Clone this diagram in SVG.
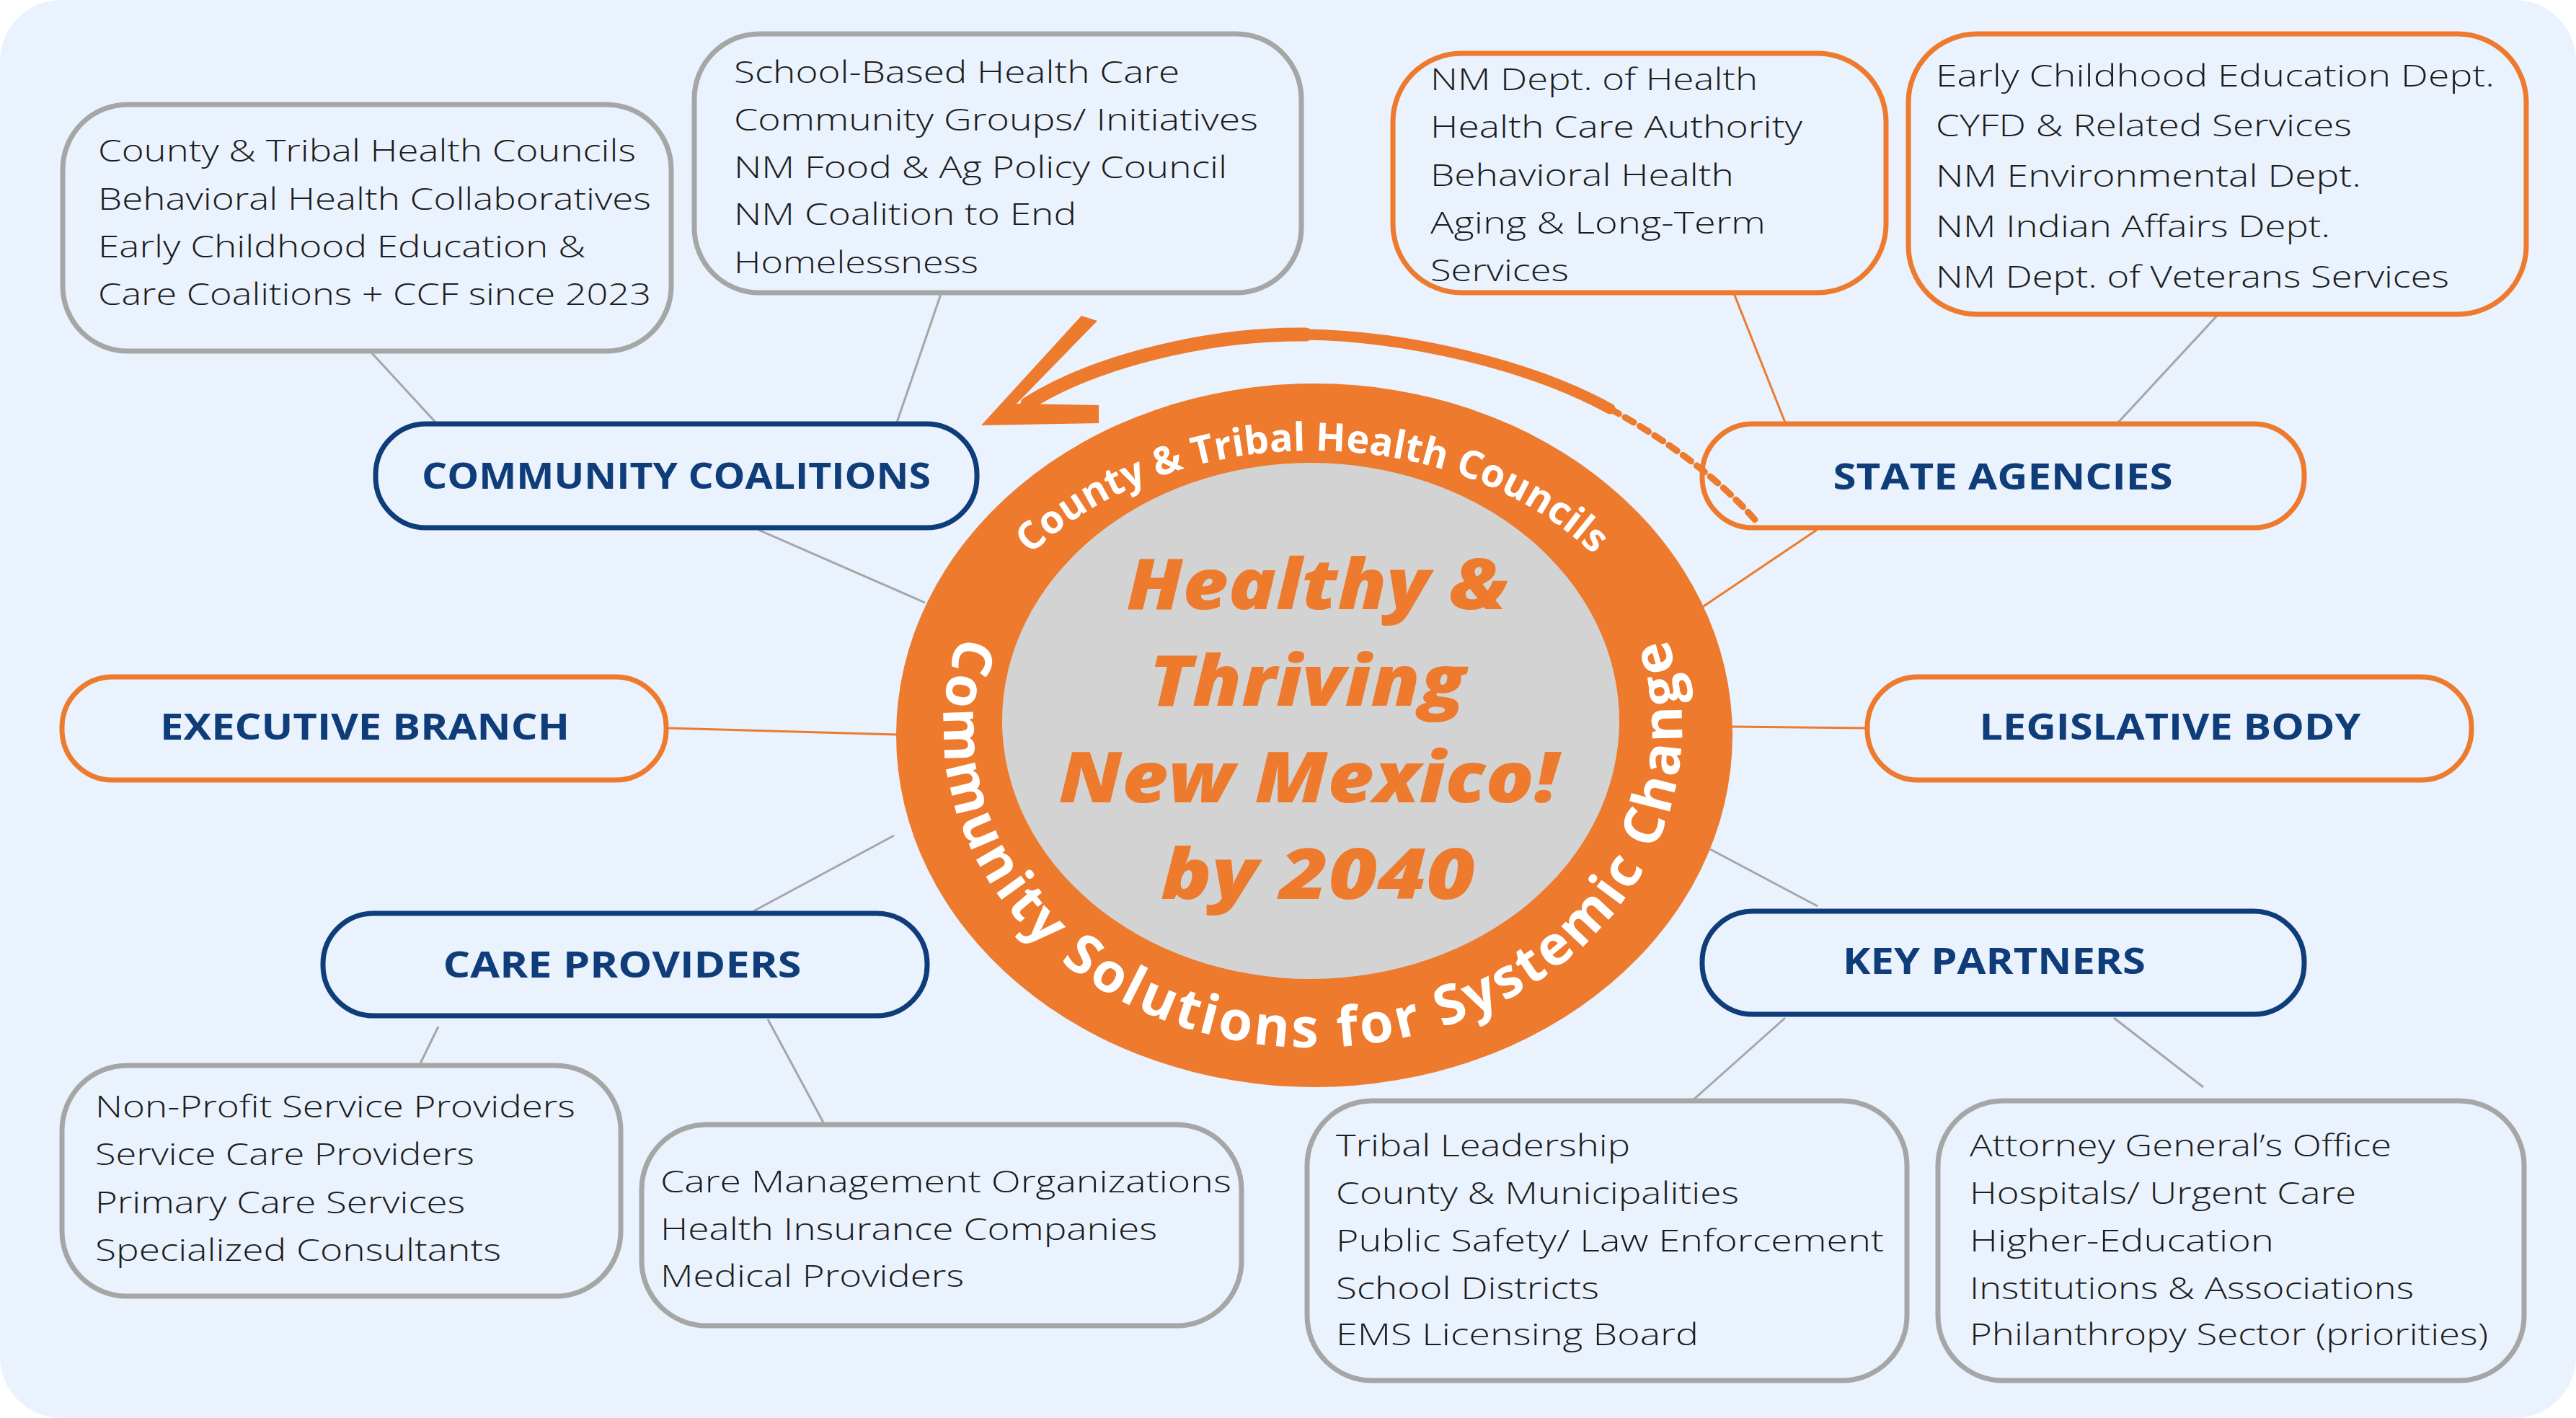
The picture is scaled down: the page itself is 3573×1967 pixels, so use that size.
<svg xmlns="http://www.w3.org/2000/svg" width="3573" height="1967" viewBox="0 0 3573 1967">
<style>
.t{font-family:"Open Sans","Liberation Sans",sans-serif;font-weight:300;font-size:43px;fill:#1c1c1c}
.h{font-family:"Open Sans","Liberation Sans",sans-serif;font-weight:700;font-size:51px;fill:#0f3d79;text-anchor:middle}
.c{font-family:"Open Sans","Liberation Sans",sans-serif;font-weight:800;font-style:italic;font-size:97px;fill:#ed7a2d;text-anchor:middle}
.arc{font-family:"Open Sans","Liberation Sans",sans-serif;font-weight:700;fill:#ffffff}
.box{fill:none;stroke-width:7}
.gray{stroke:#a6a6a6}
.org{stroke:#ed7a2d}
.navy{stroke:#0f3d79}
.lg{stroke:#a6a6a6;stroke-width:3;fill:none}
.lo{stroke:#ed7a2d;stroke-width:3;fill:none}
</style>
<defs>
<path id="topArc" d="M1820 1395 A500 385 0 0 1 1320 1010 A500 385 0 0 1 1820 625 A500 385 0 0 1 2320 1010 A500 385 0 0 1 1820 1395"/>
<path id="botArc" d="M1821 567 A512 443 0 0 0 1309 1010 A512 443 0 0 0 1821 1453 A512 443 0 0 0 2333 1010 A512 443 0 0 0 1821 567"/>
</defs>
<rect x="0" y="0" width="3573" height="1967" fill="#ffffff"/>
<rect x="0" y="0" width="3573" height="1967" rx="85" ry="85" fill="#e9f2fd"/>

<g id="connectors">
<line class="lg" x1="516" y1="490" x2="608" y2="590"/>
<line class="lg" x1="1305" y1="408" x2="1244" y2="586"/>
<line class="lg" x1="1052" y1="735" x2="1283" y2="836"/>
<line class="lg" x1="3075" y1="438" x2="2938" y2="586"/>
<line class="lg" x1="1045" y1="1264" x2="1240" y2="1159"/>
<line class="lg" x1="608" y1="1424" x2="583" y2="1475"/>
<line class="lg" x1="1065" y1="1414" x2="1142" y2="1557"/>
<line class="lg" x1="2372" y1="1178" x2="2521" y2="1257"/>
<line class="lg" x1="2476" y1="1412" x2="2347" y2="1527"/>
<line class="lg" x1="2932" y1="1412" x2="3056" y2="1508"/>
<line class="lo" x1="2405" y1="407" x2="2476" y2="586"/>
<line class="lo" x1="2520" y1="735" x2="2360" y2="843"/>
<line class="lo" x1="926" y1="1010" x2="1244" y2="1019"/>
<line class="lo" x1="2402" y1="1008" x2="2590" y2="1010"/>
</g>

<g id="center">
<ellipse cx="1823" cy="1020" rx="580" ry="488" fill="#ed7a2d"/>
<ellipse cx="1818" cy="1000" rx="428" ry="358" fill="#d3d3d3"/>
<text class="c" x="1827" y="845" textLength="529" lengthAdjust="spacingAndGlyphs">Healthy &amp;</text>
<text class="c" x="1813" y="979" textLength="439" lengthAdjust="spacingAndGlyphs">Thriving</text>
<text class="c" x="1815" y="1113" textLength="693" lengthAdjust="spacingAndGlyphs">New Mexico!</text>
<text class="c" x="1828" y="1247" textLength="436" lengthAdjust="spacingAndGlyphs">by 2040</text>
<text class="arc" font-size="54" letter-spacing="0"><textPath href="#topArc" startOffset="50%" text-anchor="middle">County &amp; Tribal Health Councils</textPath></text>
<text class="arc" font-size="76" letter-spacing="4"><textPath href="#botArc" startOffset="50%" text-anchor="middle">Community Solutions for Systemic Change</textPath></text>
</g>

<g id="arrow" fill="none" stroke="#ed7a2d" stroke-linecap="round">
<polygon points="1361,590 1500,438 1522,445 1410,560 1524,562 1524,587" fill="#ed7a2d" stroke="none"/>
<path d="M1425 560 C1520 500 1680 462 1811 464" stroke-width="19"/>
<path d="M1811 464 C1950 466 2120 505 2233 567" stroke-width="15"/>
<path d="M2233 567 C2320 615 2390 670 2435 722" stroke-width="9" stroke-dasharray="14 10"/>
</g>

<g id="box-community-list">
<rect class="box gray" x="87" y="145" width="844" height="342" rx="90" ry="90"/>
<text class="t" x="136" y="224" textLength="746" lengthAdjust="spacingAndGlyphs">County &amp; Tribal Health Councils</text>
<text class="t" x="136" y="291" textLength="767" lengthAdjust="spacingAndGlyphs">Behavioral Health Collaboratives</text>
<text class="t" x="136" y="357" textLength="676" lengthAdjust="spacingAndGlyphs">Early Childhood Education &amp;</text>
<text class="t" x="136" y="423" textLength="767" lengthAdjust="spacingAndGlyphs">Care Coalitions + CCF since 2023</text>
</g>

<g id="box-school-list">
<rect class="box gray" x="963" y="47" width="842" height="359" rx="90" ry="90"/>
<text class="t" x="1018" y="115" textLength="618" lengthAdjust="spacingAndGlyphs">School-Based Health Care</text>
<text class="t" x="1018" y="181" textLength="727" lengthAdjust="spacingAndGlyphs">Community Groups/ Initiatives</text>
<text class="t" x="1018" y="247" textLength="684" lengthAdjust="spacingAndGlyphs">NM Food &amp; Ag Policy Council</text>
<text class="t" x="1018" y="312" textLength="475" lengthAdjust="spacingAndGlyphs">NM Coalition to End</text>
<text class="t" x="1018" y="379" textLength="339" lengthAdjust="spacingAndGlyphs">Homelessness</text>
</g>

<g id="box-health-list">
<rect class="box org" x="1932" y="74" width="684" height="332" rx="95" ry="95"/>
<text class="t" x="1984" y="125" textLength="454" lengthAdjust="spacingAndGlyphs">NM Dept. of Health</text>
<text class="t" x="1984" y="191" textLength="516" lengthAdjust="spacingAndGlyphs">Health Care Authority</text>
<text class="t" x="1984" y="258" textLength="421" lengthAdjust="spacingAndGlyphs">Behavioral Health</text>
<text class="t" x="1984" y="324" textLength="465" lengthAdjust="spacingAndGlyphs">Aging &amp; Long-Term</text>
<text class="t" x="1984" y="390" textLength="192" lengthAdjust="spacingAndGlyphs">Services</text>
</g>

<g id="box-depts-list">
<rect class="box org" x="2647" y="47" width="857" height="389" rx="95" ry="95"/>
<text class="t" x="2685" y="120" textLength="775" lengthAdjust="spacingAndGlyphs">Early Childhood Education Dept.</text>
<text class="t" x="2685" y="189" textLength="577" lengthAdjust="spacingAndGlyphs">CYFD &amp; Related Services</text>
<text class="t" x="2685" y="259" textLength="590" lengthAdjust="spacingAndGlyphs">NM Environmental Dept.</text>
<text class="t" x="2685" y="329" textLength="547" lengthAdjust="spacingAndGlyphs">NM Indian Affairs Dept.</text>
<text class="t" x="2685" y="399" textLength="712" lengthAdjust="spacingAndGlyphs">NM Dept. of Veterans Services</text>
</g>

<g id="community-coalitions">
<rect class="box navy" x="521" y="588" width="834" height="144" rx="70" ry="70"/>
<text class="h" x="938" y="678" textLength="706" lengthAdjust="spacingAndGlyphs">COMMUNITY COALITIONS</text>
</g>

<g id="state-agencies">
<rect class="box org" x="2361" y="588" width="835" height="144" rx="70" ry="70"/>
<text class="h" x="2778" y="679" textLength="471" lengthAdjust="spacingAndGlyphs">STATE AGENCIES</text>
</g>

<g id="executive-branch">
<rect class="box org" x="86" y="939" width="838" height="143" rx="70" ry="70"/>
<text class="h" x="506" y="1026" textLength="568" lengthAdjust="spacingAndGlyphs">EXECUTIVE BRANCH</text>
</g>

<g id="legislative-body">
<rect class="box org" x="2590" y="939" width="838" height="143" rx="70" ry="70"/>
<text class="h" x="3010" y="1026" textLength="529" lengthAdjust="spacingAndGlyphs">LEGISLATIVE BODY</text>
</g>

<g id="care-providers">
<rect class="box navy" x="448" y="1267" width="838" height="142" rx="70" ry="70"/>
<text class="h" x="863" y="1356" textLength="497" lengthAdjust="spacingAndGlyphs">CARE PROVIDERS</text>
</g>

<g id="key-partners">
<rect class="box navy" x="2361" y="1264" width="835" height="143" rx="70" ry="70"/>
<text class="h" x="2766" y="1351" textLength="420" lengthAdjust="spacingAndGlyphs">KEY PARTNERS</text>
</g>

<g id="box-providers-list">
<rect class="box gray" x="86" y="1478" width="775" height="320" rx="90" ry="90"/>
<text class="t" x="132" y="1550" textLength="666" lengthAdjust="spacingAndGlyphs">Non-Profit Service Providers</text>
<text class="t" x="132" y="1616" textLength="526" lengthAdjust="spacingAndGlyphs">Service Care Providers</text>
<text class="t" x="132" y="1683" textLength="513" lengthAdjust="spacingAndGlyphs">Primary Care Services</text>
<text class="t" x="132" y="1749" textLength="563" lengthAdjust="spacingAndGlyphs">Specialized Consultants</text>
</g>

<g id="box-care-mgmt-list">
<rect class="box gray" x="890" y="1560" width="832" height="279" rx="90" ry="90"/>
<text class="t" x="916" y="1654" textLength="792" lengthAdjust="spacingAndGlyphs">Care Management Organizations</text>
<text class="t" x="916" y="1720" textLength="689" lengthAdjust="spacingAndGlyphs">Health Insurance Companies</text>
<text class="t" x="916" y="1785" textLength="421" lengthAdjust="spacingAndGlyphs">Medical Providers</text>
</g>

<g id="box-tribal-list">
<rect class="box gray" x="1813" y="1527" width="832" height="388" rx="90" ry="90"/>
<text class="t" x="1853" y="1604" textLength="408" lengthAdjust="spacingAndGlyphs">Tribal Leadership</text>
<text class="t" x="1853" y="1670" textLength="559" lengthAdjust="spacingAndGlyphs">County &amp; Municipalities</text>
<text class="t" x="1853" y="1736" textLength="760" lengthAdjust="spacingAndGlyphs">Public Safety/ Law Enforcement</text>
<text class="t" x="1853" y="1802" textLength="365" lengthAdjust="spacingAndGlyphs">School Districts</text>
<text class="t" x="1853" y="1866" textLength="503" lengthAdjust="spacingAndGlyphs">EMS Licensing Board</text>
</g>

<g id="box-partners-list">
<rect class="box gray" x="2688" y="1527" width="813" height="388" rx="90" ry="90"/>
<text class="t" x="2732" y="1604" textLength="585" lengthAdjust="spacingAndGlyphs">Attorney General’s Office</text>
<text class="t" x="2732" y="1670" textLength="536" lengthAdjust="spacingAndGlyphs">Hospitals/ Urgent Care</text>
<text class="t" x="2732" y="1736" textLength="422" lengthAdjust="spacingAndGlyphs">Higher-Education</text>
<text class="t" x="2732" y="1802" textLength="616" lengthAdjust="spacingAndGlyphs">Institutions &amp; Associations</text>
<text class="t" x="2732" y="1866" textLength="719" lengthAdjust="spacingAndGlyphs">Philanthropy Sector (priorities)</text>
</g>
</svg>
